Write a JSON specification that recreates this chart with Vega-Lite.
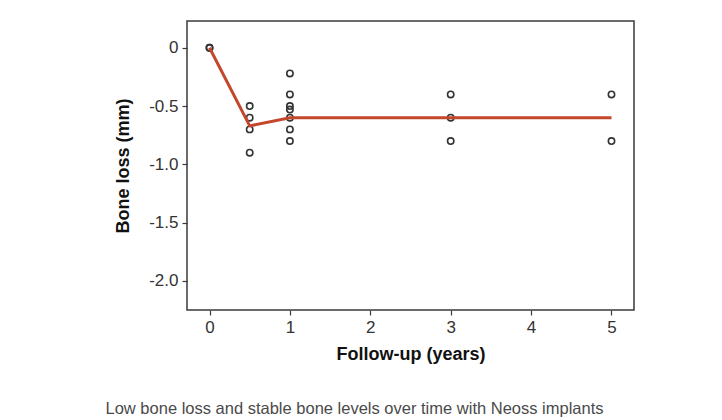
{
  "$schema": "https://vega.github.io/schema/vega-lite/v6.json",
  "autosize": "none",
  "width": 447,
  "height": 289,
  "padding": {"left": 187, "top": 21, "right": 88, "bottom": 110},
  "background": "white",
  "title": {
    "text": "Low bone loss and stable bone levels over time with Neoss implants",
    "orient": "bottom",
    "anchor": "middle",
    "frame": "group",
    "dx": -56,
    "offset": 38,
    "font": "Liberation Sans",
    "fontSize": 16.5,
    "fontWeight": "normal",
    "color": "#4a4a4a"
  },
  "config": {
    "view": {"stroke": "#3a3a3a", "strokeWidth": 1.5},
    "axis": {
      "grid": false,
      "domain": false,
      "tickColor": "#3a3a3a",
      "tickSize": 5,
      "tickWidth": 1.2,
      "labelFont": "Liberation Sans",
      "labelFontSize": 17,
      "labelColor": "#333333",
      "titleFont": "Liberation Sans",
      "titleFontSize": 18,
      "titleFontWeight": "bold",
      "titleColor": "#111111"
    }
  },
  "datasets": {
    "obs": [
      {"years": 0, "loss": 0},
      {"years": 0, "loss": 0},
      {"years": 0.5, "loss": -0.5},
      {"years": 0.5, "loss": -0.6},
      {"years": 0.5, "loss": -0.7},
      {"years": 0.5, "loss": -0.9},
      {"years": 1, "loss": -0.22},
      {"years": 1, "loss": -0.4},
      {"years": 1, "loss": -0.5},
      {"years": 1, "loss": -0.53},
      {"years": 1, "loss": -0.6},
      {"years": 1, "loss": -0.7},
      {"years": 1, "loss": -0.8},
      {"years": 3, "loss": -0.4},
      {"years": 3, "loss": -0.6},
      {"years": 3, "loss": -0.8},
      {"years": 5, "loss": -0.4},
      {"years": 5, "loss": -0.8}
    ],
    "mean": [
      {"years": 0, "loss": 0},
      {"years": 0.5, "loss": -0.67},
      {"years": 1, "loss": -0.6},
      {"years": 3, "loss": -0.6},
      {"years": 5, "loss": -0.6}
    ]
  },
  "layer": [
    {
      "data": {"name": "obs"},
      "mark": {"type": "point", "shape": "circle", "filled": false, "stroke": "#333333", "strokeWidth": 1.6, "size": 40, "opacity": 1},
      "encoding": {
        "x": {
          "field": "years", "type": "quantitative",
          "scale": {"domain": [-0.28, 5.28], "nice": false, "zero": false},
          "axis": {"values": [0, 1, 2, 3, 4, 5], "format": "d", "title": "Follow-up (years)", "labelPadding": 4, "titlePadding": 10}
        },
        "y": {
          "field": "loss", "type": "quantitative",
          "scale": {"domain": [-2.25, 0.23], "nice": false, "zero": false},
          "axis": {
            "values": [0, -0.5, -1, -1.5, -2],
            "labelExpr": "datum.value == 0 ? '0' : '-' + format(abs(datum.value), '.1f')",
            "title": "Bone loss (mm)", "labelPadding": 4, "titlePadding": 16
          }
        }
      }
    },
    {
      "data": {"name": "mean"},
      "mark": {"type": "line", "color": "#c4472c", "strokeWidth": 3},
      "encoding": {
        "x": {"field": "years", "type": "quantitative"},
        "y": {"field": "loss", "type": "quantitative"}
      }
    }
  ]
}
